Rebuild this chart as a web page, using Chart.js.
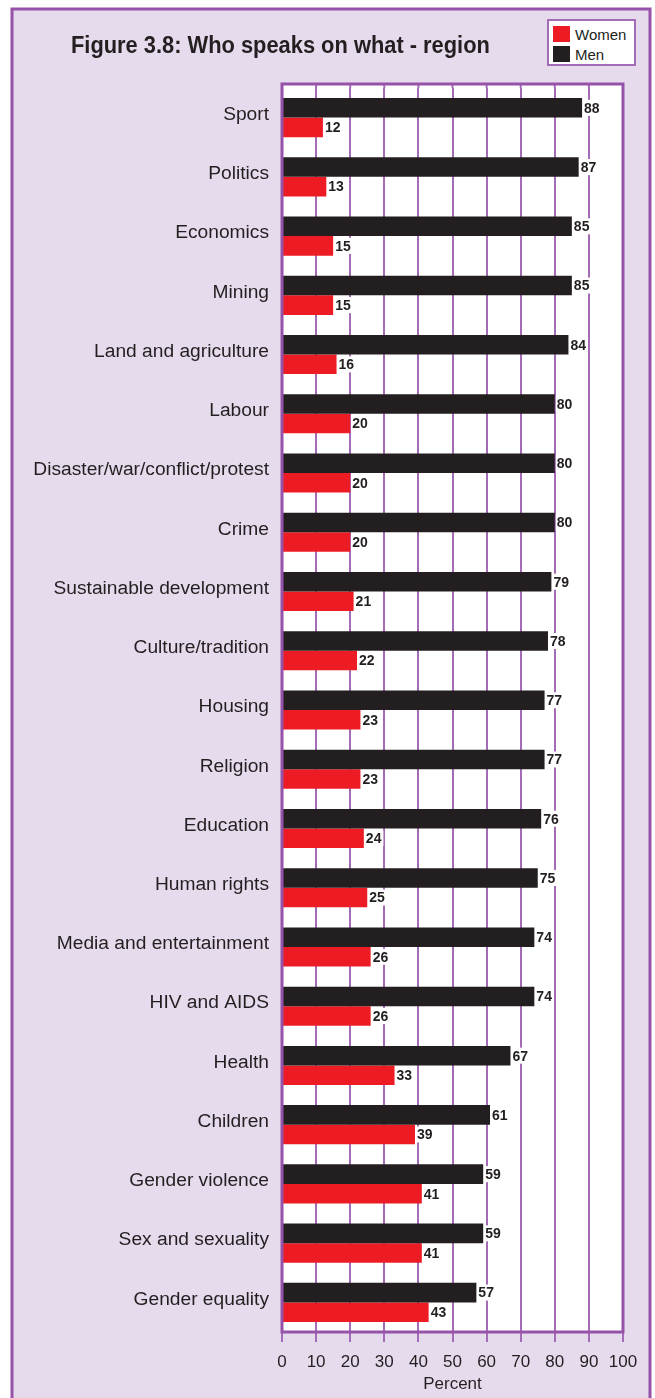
<!DOCTYPE html>
<html>
<head>
<meta charset="utf-8">
<script src="https://cdn.jsdelivr.net/npm/chart.js@4.4.1/dist/chart.umd.min.js"></script>
<style>
  body { margin: 0; background: #fff; }
  #wrap { position: relative; width: 655px; height: 1398px; overflow: hidden; }
  #title {
    position: absolute; left: 71px; top: 33px;
    font: bold 23px 'Liberation Sans', Arial, sans-serif;
    line-height: 24px; color: #231f20; white-space: nowrap;
    transform: scaleX(0.95); transform-origin: left top;
  }
  #legend {
    position: absolute; left: 547px; top: 19px; width: 85px; height: 43px;
    background: #fff; border: 2px solid #a46cb6; padding: 0;
  }
  #legend .item { position: absolute; left: 4px; height: 17px; font: 15px 'Liberation Sans', Arial, sans-serif; color: #231f20; line-height: 17px; }
  #legend .box { display: inline-block; width: 17px; height: 16px; vertical-align: top; margin-right: 5px; }
</style>
</head>
<body>
<div id="wrap">
  <canvas id="chart" width="655" height="1398"></canvas>
  <div id="title">Figure 3.8: Who speaks on what - region</div>
  <div id="legend"></div>
</div>
<script>
// topics, top to bottom
const topics = [
    'Sport', 'Politics', 'Economics', 'Mining', 'Land and agriculture', 'Labour',
    'Disaster/war/conflict/protest', 'Crime', 'Sustainable development', 'Culture/tradition',
    'Housing', 'Religion', 'Education', 'Human rights', 'Media and entertainment',
    'HIV and AIDS', 'Health', 'Children', 'Gender violence', 'Sex and sexuality', 'Gender equality'
];
// share of sources (%)
const men = [88, 87, 85, 85, 84, 80, 80, 80, 79, 78, 77, 77, 76, 75, 74, 74, 67, 61, 59, 59, 57];
const women = [12, 13, 15, 15, 16, 20, 20, 20, 21, 22, 23, 23, 24, 25, 26, 26, 33, 39, 41, 41, 43];
const percentMin = 0;
const percentMax = 100;
const percentStep = 10;

const ink = '#231f20';
const lilac = '#e5dbec';
const borderPurple = '#9652a8';
const gridPurple = '#a46cb6';
const labelFont = "'Liberation Sans', Arial, sans-serif";

// lilac panel, white plot background and plot frame
const framePlugin = {
    id: 'frame',
    beforeDraw(chart) {
        const ctx = chart.ctx;
        const a = chart.chartArea;
        ctx.save();
        ctx.fillStyle = lilac;
        ctx.fillRect(12, 9, 638, 1400);
        ctx.strokeStyle = borderPurple;
        ctx.lineWidth = 3;
        ctx.strokeRect(12, 9, 638, 1400);
        ctx.fillStyle = '#fff';
        ctx.fillRect(a.left, a.top - 4, a.right - a.left, a.bottom - a.top + 4);
        ctx.restore();
    },
    beforeDatasetsDraw(chart) {
        // grid lines run up to the frame top
        const ctx = chart.ctx;
        const a = chart.chartArea;
        const x = chart.scales.x;
        ctx.save();
        ctx.strokeStyle = gridPurple;
        ctx.lineWidth = 2;
        x.ticks.forEach(t => {
            const px = x.getPixelForValue(t.value);
            ctx.beginPath();
            ctx.moveTo(px, a.top - 4);
            ctx.lineTo(px, a.top);
            ctx.stroke();
        });
        ctx.restore();
    },
    afterDraw(chart) {
        const ctx = chart.ctx;
        const a = chart.chartArea;
        ctx.save();
        ctx.strokeStyle = borderPurple;
        ctx.lineWidth = 3;
        ctx.strokeRect(a.left, a.top - 4, a.right - a.left, a.bottom - a.top + 4);
        ctx.restore();
    }
};

// numbers at the end of each bar
const valueLabels = {
    id: 'valueLabels',
    afterDatasetsDraw(chart) {
        const ctx = chart.ctx;
        ctx.save();
        ctx.font = 'bold 14px ' + labelFont;
        ctx.textBaseline = 'middle';
        chart.data.datasets.forEach((ds, i) => {
            chart.getDatasetMeta(i).data.forEach((bar, j) => {
                const txt = String(ds.data[j]);
                const w = ctx.measureText(txt).width;
                ctx.fillStyle = '#fff';
                ctx.fillRect(bar.x + 1, bar.y - 8, w + 3, 16);
                ctx.fillStyle = ink;
                ctx.fillText(txt, bar.x + 2, bar.y + 1);
            });
        });
        ctx.restore();
    }
};

const chart = new Chart(document.getElementById('chart'), {
    type: 'bar',
    data: {
        labels: topics,
        datasets: [
            { label: 'Men', data: men, backgroundColor: ink },
            { label: 'Women', data: women, backgroundColor: '#ed1c24' }
        ]
    },
    options: {
        indexAxis: 'y',
        responsive: false,
        animation: false,
        devicePixelRatio: 1,
        categoryPercentage: 0.66,
        barPercentage: 1,
        layout: { padding: { top: 88, right: 32, left: 0, bottom: 0 } },
        plugins: {
            legend: { display: false },
            tooltip: { enabled: false }
        },
        scales: {
            x: {
                min: percentMin,
                max: percentMax,
                ticks: {
                    stepSize: percentStep, color: ink, font: { family: labelFont, size: 17 }, padding: 10,
                    maxRotation: 0, minRotation: 0, autoSkip: false
                },
                grid: { color: gridPurple, lineWidth: 2, tickLength: 10 },
                border: { display: false },
                title: { display: true, text: 'Percent', color: ink, font: { family: labelFont, size: 17 }, padding: { top: 2, bottom: 3 } },
                afterFit(scale) { scale.height = 66; }
            },
            y: {
                ticks: { color: ink, font: { family: labelFont, size: 19.2 }, padding: 13, labelOffset: -3 },
                grid: { display: false, drawTicks: false },
                border: { display: false },
                afterFit(scale) { scale.width = 282; }
            }
        }
    },
    plugins: [framePlugin, valueLabels]
});

// legend lists Women first
const legendEl = document.getElementById('legend');
chart.data.datasets.slice().reverse().forEach((ds, i) => {
    const item = document.createElement('div');
    item.className = 'item';
    item.style.top = (5 + i * 20) + 'px';
    item.innerHTML = '<span class="box" style="background:' + ds.backgroundColor + '"></span>' + ds.label;
    legendEl.appendChild(item);
});
</script>
</body>
</html>
